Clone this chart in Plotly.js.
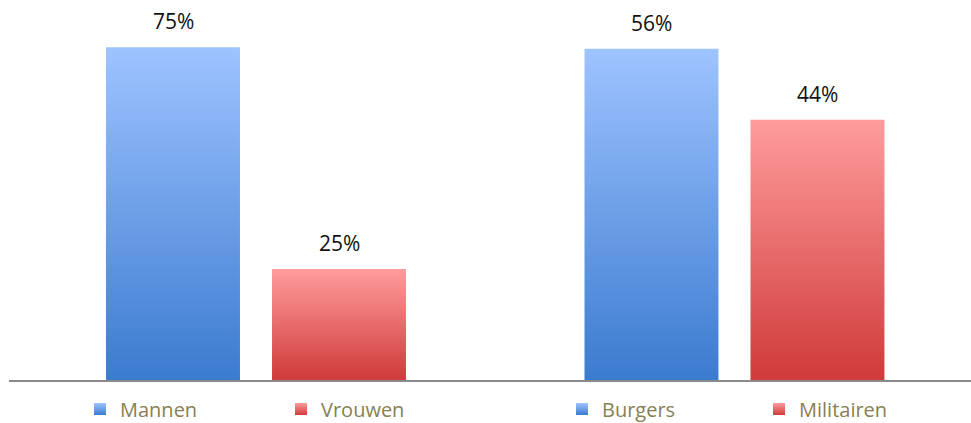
<!DOCTYPE html>
<html>
<head>
<meta charset="utf-8">
<script src="https://cdn.plot.ly/plotly-3.0.1.min.js"></script>
<style>html,body{margin:0;padding:0;background:#fff;}</style>
</head>
<body>
<div id="chart" style="width:971px;height:423px;"></div>
<script>
// Data
const genderCategories = ['Mannen', 'Vrouwen'];
const genderValues = [75, 25];
const statusCategories = ['Burgers', 'Militairen'];
const statusValues = [56, 44];
const seriesColorKeys = ['blue', 'red'];

// Styles
const solid = { blue: 'rgb(91, 146, 230)', red: 'rgb(232, 104, 104)' };
const grad = {
  blue: ['#9ec3ff', '#3b7bcf'],
  red: ['#ff9c9c', '#d03a3a']
};
const labelFont = { family: 'Open Sans, sans-serif', size: 21, color: '#111111' };
const legendFont = { family: 'Open Sans, sans-serif', size: 20, color: '#877f55' };
const legendLeftPx = [80, 281, 562, 759];

const traces = [];
const annotations = [];
let legendCount = 0;
function addGroup(cats, vals, xa, ya) {
  cats.forEach((c, i) => {
    legendCount += 1;
    const legendId = legendCount === 1 ? 'legend' : 'legend' + legendCount;
    traces.push({
      type: 'bar', x: [c], y: [vals[i]], name: c,
      xaxis: xa, yaxis: ya, legend: legendId,
      marker: { color: solid[seriesColorKeys[i]], line: { width: 0 } },
      hoverinfo: 'none'
    });
    annotations.push({
      xref: xa, yref: ya, x: c, y: vals[i], text: vals[i] + '%',
      showarrow: false, yanchor: 'bottom', yshift: 10, font: labelFont
    });
  });
}
addGroup(genderCategories, genderValues, 'x', 'y');
addGroup(statusCategories, statusValues, 'x2', 'y2');

const xBase = {
  type: 'category', showline: true, linecolor: '#8a8a8a', linewidth: 2,
  showticklabels: false, ticks: '', showgrid: false, zeroline: false, fixedrange: true
};
const yBase = { visible: false, showgrid: false, zeroline: false, fixedrange: true };
const legendBase = {
  orientation: 'h', xanchor: 'left', yanchor: 'middle',
  yref: 'container', y: 1 - 409 / 423,
  font: legendFont, bgcolor: 'rgba(0,0,0,0)', borderwidth: 0
};

const layout = {
  width: 971, height: 423,
  margin: { l: 0, r: 0, t: 25, b: 43, autoexpand: false },
  paper_bgcolor: '#ffffff', plot_bgcolor: '#ffffff',
  barmode: 'overlay', bargap: 0.193,
  showlegend: true,
  xaxis: Object.assign({}, xBase, { domain: [9 / 971, 503 / 971], range: [-0.988, 1.988], anchor: 'y' }),
  xaxis2: Object.assign({}, xBase, { domain: [487 / 971, 1], range: [-0.991, 1.925], anchor: 'y2' }),
  yaxis: Object.assign({}, yBase, { range: [0, 80], anchor: 'x' }),
  yaxis2: Object.assign({}, yBase, { range: [0, 60], anchor: 'x2' }),
  annotations: annotations
};
legendLeftPx.forEach((px, i) => {
  const id = i === 0 ? 'legend' : 'legend' + (i + 1);
  layout[id] = Object.assign({}, legendBase, { x: px / 971 });
});

function applyGradients(gd) {
  const NS = 'http://www.w3.org/2000/svg';
  const svg = gd.querySelector('.main-svg');
  if (!svg) return;
  let defs = svg.querySelector('defs');
  if (!defs) { defs = document.createElementNS(NS, 'defs'); svg.insertBefore(defs, svg.firstChild); }
  Object.keys(grad).forEach(k => {
    const id = 'grad_' + k;
    if (document.getElementById(id)) return;
    const lg = document.createElementNS(NS, 'linearGradient');
    lg.setAttribute('id', id);
    lg.setAttribute('x1', '0'); lg.setAttribute('y1', '0');
    lg.setAttribute('x2', '0'); lg.setAttribute('y2', '1');
    [[0, grad[k][0]], [1, grad[k][1]]].forEach(s => {
      const st = document.createElementNS(NS, 'stop');
      st.setAttribute('offset', s[0]);
      st.setAttribute('stop-color', s[1]);
      lg.appendChild(st);
    });
    defs.appendChild(lg);
  });
  gd.querySelectorAll('path').forEach(p => {
    const f = p.style.fill;
    Object.keys(solid).forEach(k => {
      if (f === solid[k]) p.style.fill = 'url(#grad_' + k + ')';
    });
  });
}

const gd = document.getElementById('chart');
Plotly.newPlot(gd, traces, layout, { staticPlot: true, displayModeBar: false }).then(() => {
  applyGradients(gd);
  gd.on('plotly_afterplot', () => applyGradients(gd));
});
</script>
</body>
</html>
